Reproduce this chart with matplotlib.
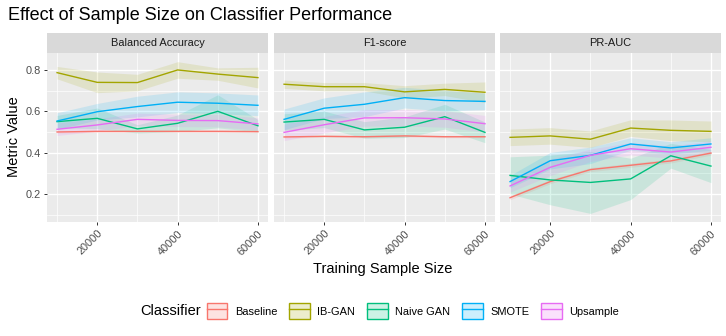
import numpy as np
import matplotlib
matplotlib.use("Agg")
import matplotlib.pyplot as plt
from matplotlib.patches import Patch
from matplotlib.lines import Line2D

plt.rcParams['font.family'] = ['Liberation Sans', 'DejaVu Sans']

# data
sizes = [10000, 20000, 30000, 40000, 50000, 60000]
metrics = ["Balanced Accuracy", "F1-score", "PR-AUC"]
classifiers = ["Baseline", "IB-GAN", "Naive GAN", "SMOTE", "Upsample"]
colors = ["#F8766D", "#A3A500", "#00BF7D", "#00B0F6", "#E76BF3"]

# mean values, one list per classifier, per metric
ba_mean = {
    "Baseline":  [0.500, 0.503, 0.503, 0.503, 0.503, 0.502],
    "IB-GAN":    [0.787, 0.740, 0.739, 0.800, 0.780, 0.763],
    "Naive GAN": [0.550, 0.566, 0.515, 0.542, 0.600, 0.530],
    "SMOTE":     [0.553, 0.598, 0.623, 0.644, 0.639, 0.629],
    "Upsample":  [0.513, 0.534, 0.561, 0.556, 0.555, 0.539],
}
f1_mean = {
    "Baseline":  [0.476, 0.479, 0.477, 0.481, 0.477, 0.477],
    "IB-GAN":    [0.731, 0.719, 0.719, 0.694, 0.706, 0.692],
    "Naive GAN": [0.548, 0.561, 0.510, 0.523, 0.574, 0.498],
    "SMOTE":     [0.561, 0.615, 0.634, 0.666, 0.652, 0.648],
    "Upsample":  [0.498, 0.535, 0.568, 0.569, 0.563, 0.540],
}
pr_mean = {
    "Baseline":  [0.182, 0.260, 0.318, 0.339, 0.360, 0.398],
    "IB-GAN":    [0.474, 0.481, 0.465, 0.519, 0.508, 0.503],
    "Naive GAN": [0.290, 0.268, 0.256, 0.273, 0.385, 0.335],
    "SMOTE":     [0.260, 0.361, 0.387, 0.442, 0.423, 0.442],
    "Upsample":  [0.239, 0.329, 0.387, 0.419, 0.403, 0.426],
}

# half-width of the shaded bands
ba_err = {
    "Baseline":  [0.005, 0.005, 0.005, 0.005, 0.005, 0.005],
    "IB-GAN":    [0.03, 0.05, 0.04, 0.04, 0.03, 0.05],
    "Naive GAN": [0.03, 0.05, 0.02, 0.04, 0.08, 0.03],
    "SMOTE":     [0.04, 0.04, 0.05, 0.05, 0.05, 0.05],
    "Upsample":  [0.03, 0.03, 0.03, 0.03, 0.03, 0.03],
}
f1_err = {
    "Baseline":  [0.005, 0.005, 0.005, 0.005, 0.005, 0.005],
    "IB-GAN":    [0.02, 0.02, 0.02, 0.03, 0.03, 0.05],
    "Naive GAN": [0.04, 0.04, 0.04, 0.05, 0.06, 0.05],
    "SMOTE":     [0.05, 0.05, 0.06, 0.05, 0.05, 0.04],
    "Upsample":  [0.04, 0.04, 0.04, 0.04, 0.04, 0.04],
}
pr_err = {
    "Baseline":  [0.01, 0.01, 0.01, 0.01, 0.01, 0.01],
    "IB-GAN":    [0.04, 0.04, 0.04, 0.04, 0.05, 0.05],
    "Naive GAN": [0.09, 0.12, 0.15, 0.10, 0.06, 0.08],
    "SMOTE":     [0.03, 0.04, 0.04, 0.03, 0.03, 0.03],
    "Upsample":  [0.03, 0.04, 0.03, 0.03, 0.03, 0.03],
}

means = [ba_mean, f1_mean, pr_mean]
errs = [ba_err, f1_err, pr_err]

W, H = 726, 336
fig = plt.figure(figsize=(W / 100, H / 100), dpi=100)

panel_left = [47, 274, 500]
panel_w = 221
panel_top, panel_bot = 53, 222
strip_top = 33

for i, m in enumerate(metrics):
    ax = fig.add_axes([panel_left[i] / W, 1 - panel_bot / H,
                       panel_w / W, (panel_bot - panel_top) / H])
    ax.set_facecolor("#EBEBEB")
    for s in ax.spines.values():
        s.set_visible(False)
    ax.set_xlim(7500, 62500)
    ax.set_ylim(0.0646, 0.882)
    ax.set_xticks([20000, 40000, 60000])
    ax.set_xticks([10000, 30000, 50000], minor=True)
    ax.set_yticks([0.2, 0.4, 0.6, 0.8])
    ax.set_yticks([0.1, 0.3, 0.5, 0.7], minor=True)
    ax.grid(which="major", color="white", lw=1.0)
    ax.grid(which="minor", color="white", lw=0.5)
    ax.set_axisbelow(True)
    ax.tick_params(which="major", length=2.5, width=0.7, color="#333333",
                   labelsize=7.9, labelcolor="#4D4D4D", pad=2)
    ax.tick_params(which="minor", length=0)
    ax.set_xticklabels([str(v) for v in [20000, 40000, 60000]],
                       rotation=45, ha="right", rotation_mode="anchor")
    if i > 0:
        ax.tick_params(axis="y", left=False, labelleft=False)

    for c, col in zip(classifiers, colors):
        y = np.array(means[i][c])
        e = np.array(errs[i][c])
        ax.fill_between(sizes, y - e, y + e, color=col, alpha=0.14, lw=0)
    for c, col in zip(classifiers, colors):
        ax.plot(sizes, means[i][c], color=col, lw=1.0)

    # facet strip
    sax = fig.add_axes([panel_left[i] / W, 1 - panel_top / H,
                        panel_w / W, (panel_top - strip_top) / H])
    sax.set_facecolor("#D9D9D9")
    sax.set_xticks([])
    sax.set_yticks([])
    for s in sax.spines.values():
        s.set_visible(False)
    sax.text(0.5, 0.5, m, ha="center", va="center", fontsize=7.9,
             color="#1A1A1A", transform=sax.transAxes)

fig.text(8 / W, 1 - 15 / H, "Effect of Sample Size on Classifier Performance",
         fontsize=13, ha="left", va="center", color="black")
fig.text(14 / W, 1 - 137 / H, "Metric Value", rotation=90, fontsize=10.5,
         ha="center", va="center")
fig.text(383 / W, 1 - 269 / H, "Training Sample Size", fontsize=10.5,
         ha="center", va="center")

handles = []
for col in colors:
    handles.append((Patch(facecolor=col, edgecolor=col, alpha=0.2, lw=0),
                    Patch(facecolor="none", edgecolor=col, lw=1.0),
                    Line2D([], [], color=col, lw=1.0)))
fig.text(140 / W, 1 - 311 / H, "Classifier", fontsize=10.5, ha="left", va="center")
fig.legend(handles, classifiers, ncol=5, loc="center left",
           bbox_to_anchor=(207 / W, 1 - 311 / H), frameon=False,
           fontsize=7.9, handlelength=1.85, handleheight=1.85,
           handletextpad=0.7, columnspacing=1.1, borderpad=0, borderaxespad=0)

fig.savefig("out.png", dpi=100)
